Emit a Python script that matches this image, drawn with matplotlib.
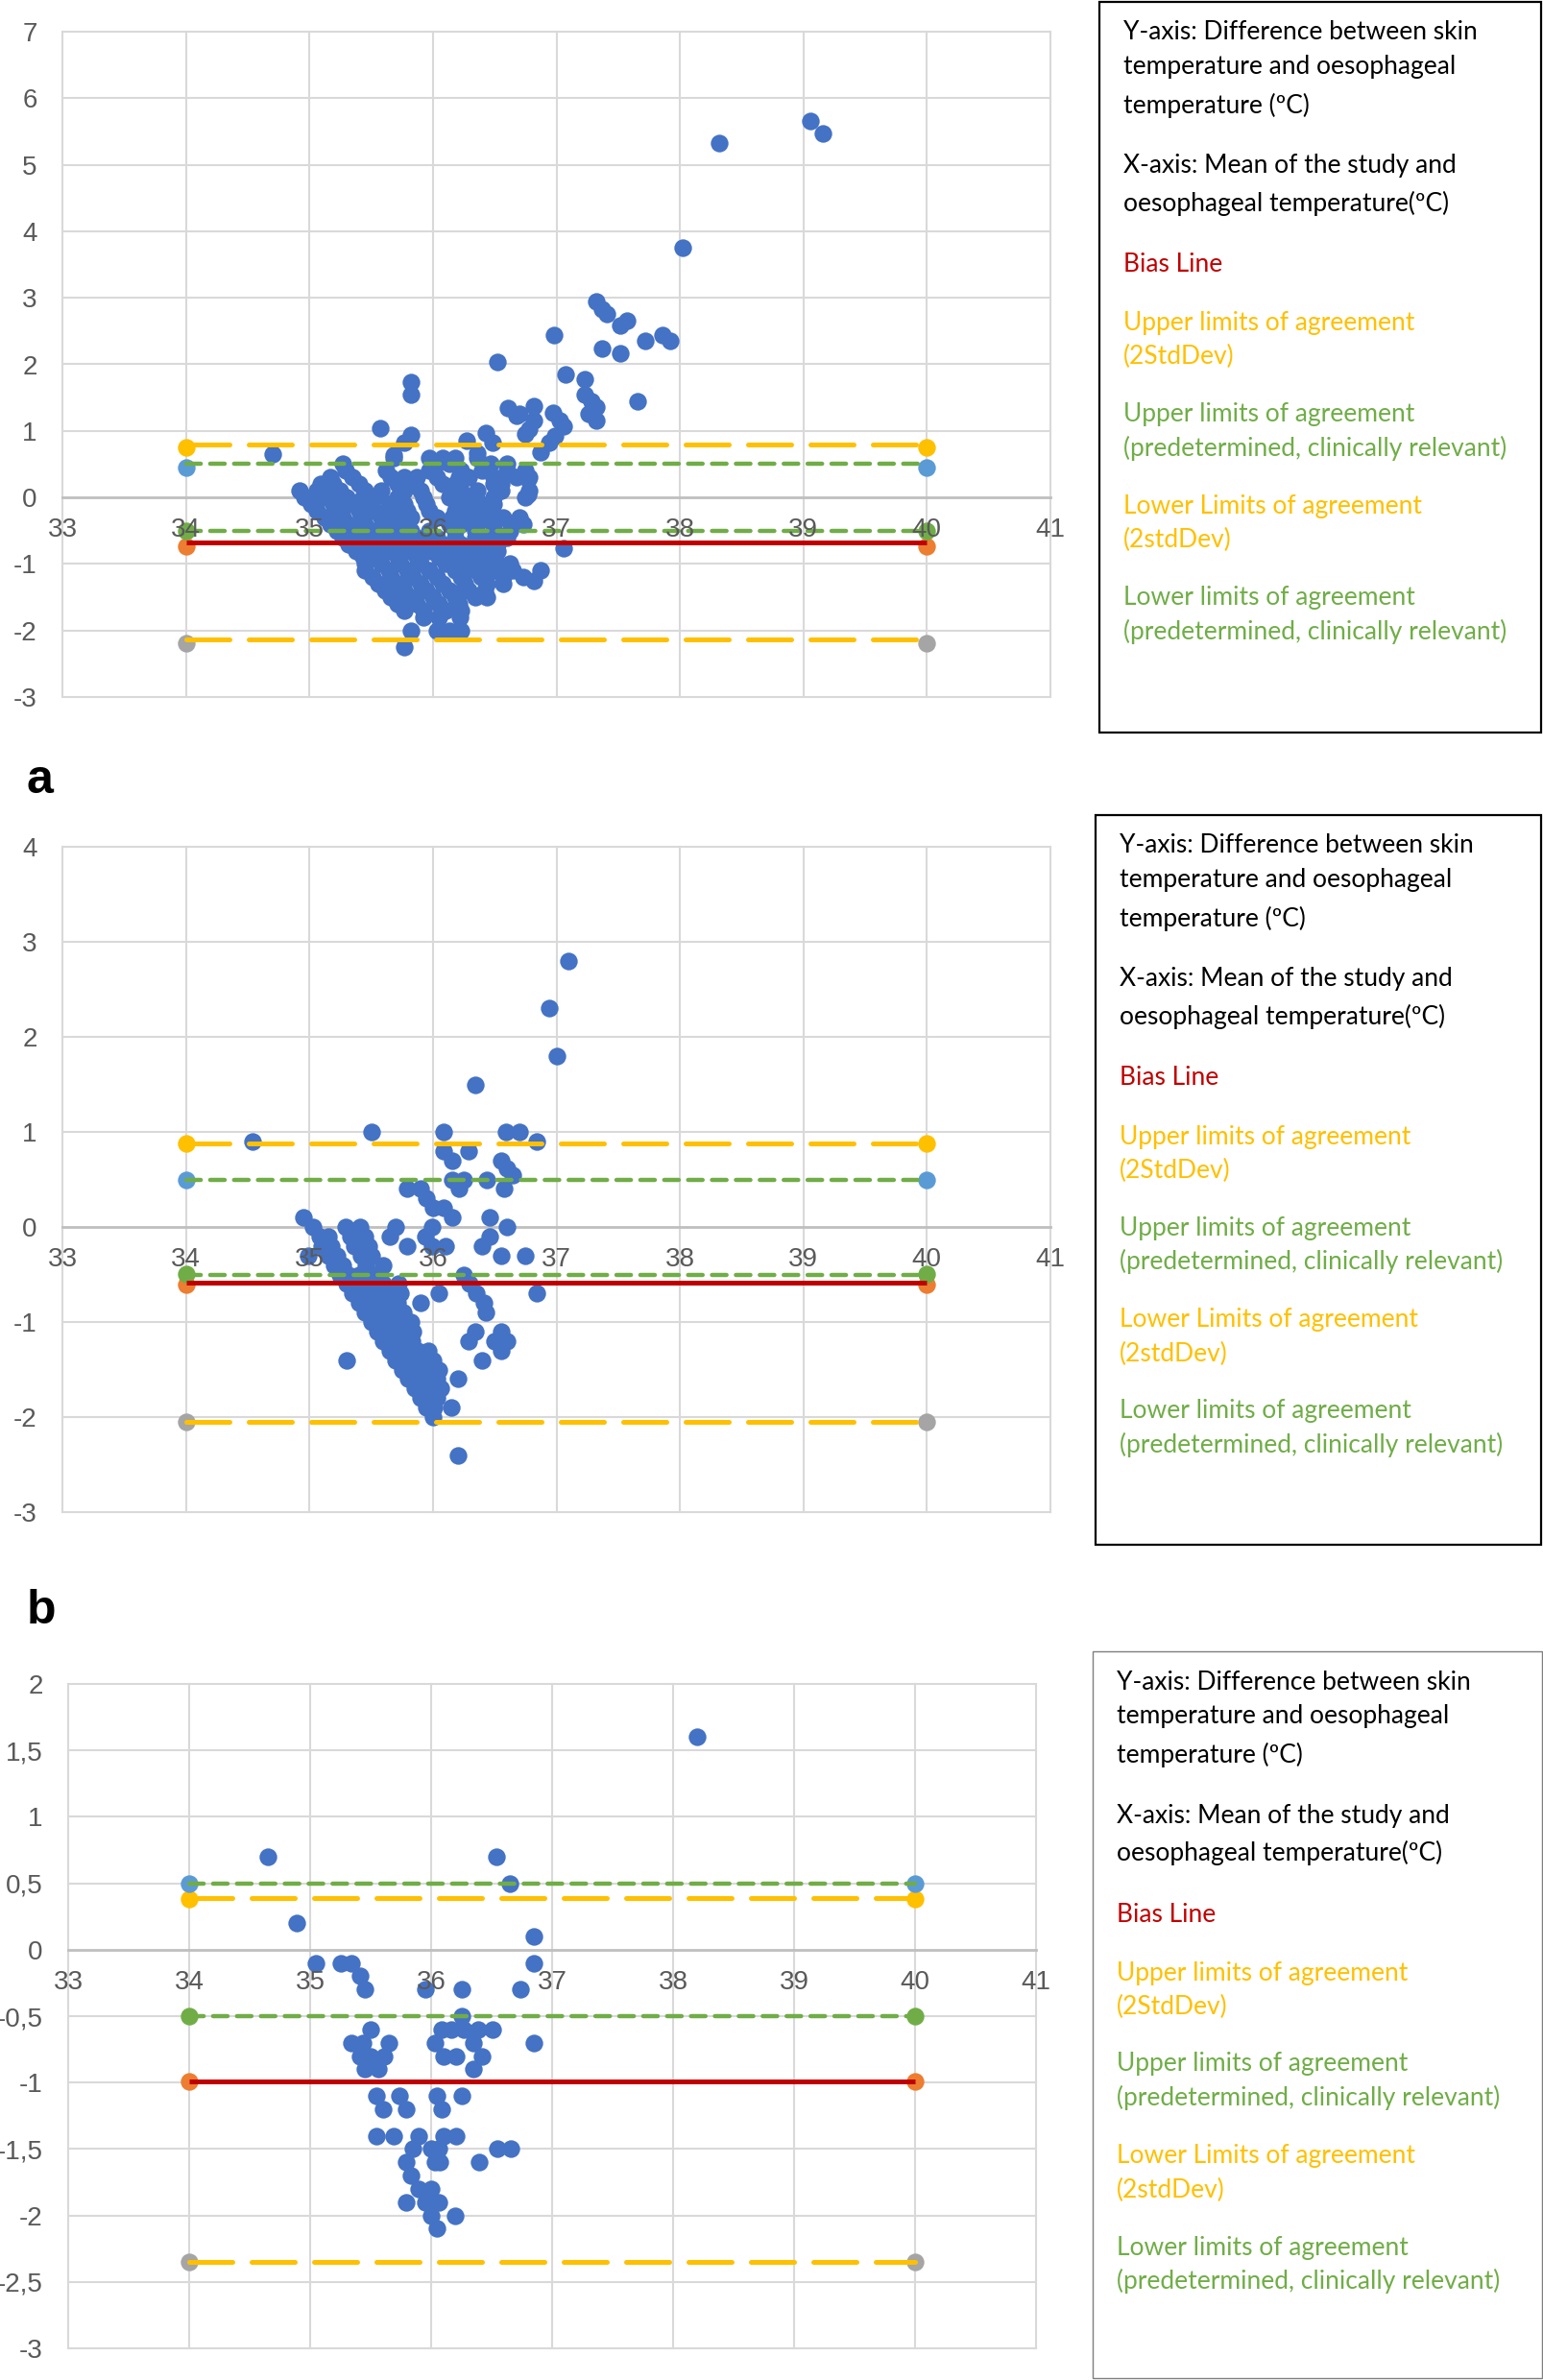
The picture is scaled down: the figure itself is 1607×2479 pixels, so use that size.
import matplotlib.pyplot as plt
from matplotlib.patches import Rectangle

# ---- data ----
x_ticks = [33, 34, 35, 36, 37, 38, 39, 40, 41]
line_x = [34, 40]

# order of limit series: upper 2SD, upper predetermined, bias, lower predetermined, lower 2SD
a_levels = [0.79, 0.50, -0.68, -0.50, -2.14]
a_marks = [0.75, 0.45, -0.74, -0.50, -2.19]
b_levels = [0.88, 0.50, -0.59, -0.51, -2.05]
b_marks = [0.88, 0.50, -0.61, -0.49, -2.05]
c_levels = [0.39, 0.50, -0.99, -0.50, -2.35]
c_marks = [0.38, 0.50, -0.99, -0.50, -2.35]

a_yticks = [-3, -2, -1, 0, 1, 2, 3, 4, 5, 6, 7]
b_yticks = [-3, -2, -1, 0, 1, 2, 3, 4]
c_yticks = [-3, -2.5, -2, -1.5, -1, -0.5, 0, 0.5, 1, 1.5, 2]
c_ylabels = ['-3', '-2,5', '-2', '-1,5', '-1', '-0,5', '0', '0,5', '1', '1,5', '2']

a_points = [
    (34.70, 0.65), (35.57, 1.04), (35.82, 1.73), (35.82, 1.55), (35.82, 0.94),
    (35.77, 0.82), (35.68, 0.63), (36.27, 0.85), (36.43, 0.97), (36.48, 0.82),
    (36.36, 0.66), (36.52, 2.04), (36.61, 1.35), (36.68, 1.23), (36.75, 0.95),
    (36.70, 1.26), (36.82, 1.37), (36.82, 1.16), (36.97, 1.27), (37.03, 1.16),
    (37.06, 1.07), (36.78, 1.02), (36.99, 0.92), (36.94, 0.82), (36.87, 0.68),
    (36.77, 0.27), (36.77, 0.05), (36.98, 2.44), (37.07, 1.85), (37.23, 1.77),
    (37.23, 1.55), (37.28, 1.45), (37.32, 1.36), (37.26, 1.26), (37.32, 1.15),
    (37.66, 1.45), (37.32, 2.95), (37.37, 2.83), (37.41, 2.76), (37.52, 2.58),
    (37.57, 2.66), (37.37, 2.24), (37.52, 2.16), (37.72, 2.36), (37.86, 2.44),
    (37.92, 2.35), (38.02, 3.76), (38.32, 5.33), (39.06, 5.66), (39.16, 5.47),
    (37.06, -0.77),
    (35.68, 0.6), (35.97, 0.6), (36.08, 0.6), (36.18, 0.6), (36.36, 0.6),
    (35.27, 0.5), (36.03, 0.5), (36.13, 0.5), (36.47, 0.5), (36.60, 0.5),
    (35.29, 0.4), (35.62, 0.4), (35.97, 0.4), (36.23, 0.4), (36.40, 0.4), (36.60, 0.4), (36.75, 0.4),
    (35.17, 0.3), (35.35, 0.3), (35.66, 0.3), (35.77, 0.3), (35.87, 0.3), (36.03, 0.3),
    (36.21, 0.3), (36.29, 0.3), (36.49, 0.3), (36.68, 0.3), (36.78, 0.3),
    (35.09, 0.2), (35.19, 0.2), (35.40, 0.2), (35.71, 0.2), (35.82, 0.2), (36.08, 0.2),
    (36.18, 0.2), (36.49, 0.2), (36.55, 0.2),
    (34.92, 0.1), (35.06, 0.1), (35.25, 0.1), (35.45, 0.1), (35.58, 0.1), (35.77, 0.1),
    (35.90, 0.1), (36.23, 0.1), (36.36, 0.1), (36.55, 0.1), (36.78, 0.1),
    (34.96, 0.0), (35.14, 0.0), (35.30, 0.0), (35.43, 0.0), (35.53, 0.0), (35.71, 0.0),
    (35.92, 0.0), (36.13, 0.0), (36.29, 0.0), (36.49, 0.0), (36.75, 0.0),
    (35.01, -0.1), (35.19, -0.1), (35.35, -0.1), (35.48, -0.1), (35.64, -0.1),
    (35.77, -0.1), (35.95, -0.1), (36.23, -0.1), (36.39, -0.1), (36.49, -0.1),
    (35.06, -0.2), (35.25, -0.2), (35.40, -0.2), (35.53, -0.2), (35.66, -0.2),
    (35.79, -0.2), (35.97, -0.2), (36.18, -0.2), (36.34, -0.2), (36.47, -0.2),
    (35.12, -0.3), (35.27, -0.3), (35.43, -0.3), (35.58, -0.3), (35.71, -0.3), (35.82, -0.3),
    (36.03, -0.3), (36.16, -0.3), (36.26, -0.3), (36.39, -0.3), (36.57, -0.3), (36.70, -0.3),
    (35.17, -0.4), (35.32, -0.4), (35.45, -0.4), (35.61, -0.4), (35.77, -0.4), (36.13, -0.4),
    (36.23, -0.4), (36.36, -0.4), (36.49, -0.4), (36.65, -0.4), (36.73, -0.4),
    (35.22, -0.5), (35.35, -0.5), (35.51, -0.5), (35.66, -0.5), (35.82, -0.5),
    (35.97, -0.5), (36.18, -0.5), (36.34, -0.5), (36.49, -0.5), (36.62, -0.5),
    (35.27, -0.6), (35.40, -0.6), (35.56, -0.6), (35.71, -0.6), (35.87, -0.6),
    (36.03, -0.6), (36.18, -0.6), (36.34, -0.6), (36.47, -0.6), (36.60, -0.6),
    (35.32, -0.7), (35.45, -0.7), (35.61, -0.7), (35.77, -0.7), (35.92, -0.7),
    (36.08, -0.7), (36.23, -0.7), (36.39, -0.7), (36.52, -0.7),
    (35.38, -0.8), (35.51, -0.8), (35.66, -0.8), (35.82, -0.8), (35.97, -0.8),
    (36.13, -0.8), (36.29, -0.8), (36.44, -0.8), (36.52, -0.8),
    (35.43, -0.9), (35.56, -0.9), (35.71, -0.9), (35.87, -0.9), (36.05, -0.9),
    (36.21, -0.9), (36.36, -0.9), (36.49, -0.9),
    (35.45, -1.0), (35.58, -1.0), (35.74, -1.0), (35.90, -1.0), (36.10, -1.0),
    (36.26, -1.0), (36.42, -1.0), (36.52, -1.0), (36.62, -1.0),
    (35.45, -1.1), (35.64, -1.1), (35.79, -1.1), (35.97, -1.1), (36.18, -1.1),
    (36.34, -1.1), (36.49, -1.1), (36.65, -1.1), (36.87, -1.1),
    (35.51, -1.2), (35.66, -1.2), (35.84, -1.2), (36.03, -1.2), (36.23, -1.2),
    (36.39, -1.2), (36.57, -1.2), (36.73, -1.2), (36.82, -1.25),
    (35.56, -1.3), (35.71, -1.3), (35.90, -1.3), (36.08, -1.3), (36.26, -1.3),
    (36.44, -1.3), (36.57, -1.3),
    (35.61, -1.4), (35.77, -1.4), (35.95, -1.4), (36.13, -1.4), (36.29, -1.4), (36.42, -1.4),
    (35.66, -1.5), (35.82, -1.5), (36.00, -1.5), (36.18, -1.5), (36.34, -1.5), (36.44, -1.5),
    (35.71, -1.6), (35.87, -1.6), (36.05, -1.6), (36.21, -1.6),
    (35.77, -1.7), (35.92, -1.7), (36.10, -1.7), (36.23, -1.7),
    (35.92, -1.8), (36.05, -1.8), (36.22, -1.8),
    (35.82, -2.0), (36.03, -2.0), (36.13, -2.0), (36.23, -2.0), (35.77, -2.25),
]

b_points = [
    (34.54, 0.9), (35.50, 1.0), (36.09, 1.0), (36.59, 1.0), (36.70, 1.0), (36.84, 0.9),
    (36.34, 1.5), (37.10, 2.8), (36.94, 2.3), (37.00, 1.8),
    (36.09, 0.8), (36.16, 0.7), (36.29, 0.8), (36.55, 0.7), (36.60, 0.62), (36.65, 0.55),
    (36.16, 0.5), (36.25, 0.5), (36.21, 0.4), (36.44, 0.5), (36.58, 0.4),
    (35.79, 0.4), (35.90, 0.4), (35.95, 0.3), (36.00, 0.2), (36.09, 0.2), (36.16, 0.1),
    (36.46, 0.1), (36.60, 0.0), (36.46, -0.1), (36.40, -0.2), (36.55, -0.3), (36.75, -0.3),
    (36.84, -0.7), (36.05, -0.7), (35.90, -0.8),
    (36.25, -0.5), (36.30, -0.6), (36.35, -0.7), (36.41, -0.8), (36.43, -0.9),
    (36.34, -1.1), (36.29, -1.2), (36.40, -1.4), (36.55, -1.1), (36.60, -1.2),
    (36.55, -1.3), (36.50, -1.2),
    (35.30, -1.4), (36.20, -1.6), (36.15, -1.9), (36.20, -2.4),
    (34.95, 0.1),
    (35.03, 0.0), (35.29, 0.0), (35.41, 0.0), (35.70, 0.0), (35.99, 0.0),
    (35.08, -0.1), (35.15, -0.1), (35.33, -0.1), (35.45, -0.1), (35.65, -0.1), (35.94, -0.1),
    (35.10, -0.2), (35.18, -0.2), (35.36, -0.2), (35.48, -0.2), (35.79, -0.2), (35.99, -0.2), (36.10, -0.2),
    (34.99, -0.3), (35.15, -0.3), (35.22, -0.3), (35.42, -0.3), (35.50, -0.3),
    (35.20, -0.4), (35.27, -0.4), (35.46, -0.4), (35.60, -0.4),
    (35.25, -0.5), (35.32, -0.5), (35.40, -0.5), (35.52, -0.5),
    (35.30, -0.6), (35.36, -0.6), (35.44, -0.6), (35.52, -0.6), (35.60, -0.6), (35.72, -0.6),
    (35.35, -0.7), (35.42, -0.7), (35.50, -0.7), (35.58, -0.7), (35.66, -0.7), (35.74, -0.7),
    (35.40, -0.8), (35.47, -0.8), (35.55, -0.8), (35.63, -0.8), (35.71, -0.8),
    (35.45, -0.9), (35.52, -0.9), (35.60, -0.9), (35.68, -0.9), (35.76, -0.9),
    (35.50, -1.0), (35.57, -1.0), (35.65, -1.0), (35.73, -1.0), (35.82, -1.0),
    (35.55, -1.1), (35.62, -1.1), (35.70, -1.1), (35.78, -1.1), (35.84, -1.1),
    (35.60, -1.2), (35.67, -1.2), (35.75, -1.2), (35.83, -1.2),
    (35.65, -1.3), (35.72, -1.3), (35.80, -1.3), (35.88, -1.3), (35.96, -1.3),
    (35.70, -1.4), (35.77, -1.4), (35.85, -1.4), (35.92, -1.4), (36.00, -1.4),
    (35.75, -1.5), (35.82, -1.5), (35.90, -1.5), (35.97, -1.5), (36.05, -1.5),
    (35.80, -1.6), (35.87, -1.6), (35.95, -1.6), (36.03, -1.6),
    (35.85, -1.7), (35.92, -1.7), (36.00, -1.7), (36.06, -1.7),
    (35.90, -1.8), (35.97, -1.8), (36.03, -1.8),
    (35.95, -1.9), (36.01, -1.9), (36.00, -2.0),
]

c_points = [
    (34.65, 0.7), (34.89, 0.2), (35.05, -0.1), (35.25, -0.1), (35.34, -0.1),
    (35.41, -0.2), (35.45, -0.3), (35.95, -0.3), (36.25, -0.3), (36.25, -0.5),
    (36.54, 0.7), (36.65, 0.5), (36.85, 0.1), (36.85, -0.1), (36.74, -0.3), (36.85, -0.7),
    (35.50, -0.6), (35.34, -0.7), (35.44, -0.7), (35.65, -0.7), (35.41, -0.8), (35.50, -0.8),
    (35.61, -0.8), (35.45, -0.9), (35.56, -0.9),
    (36.09, -0.6), (36.17, -0.6), (36.27, -0.6), (36.39, -0.6), (36.51, -0.6),
    (36.03, -0.7), (36.35, -0.7), (36.10, -0.8), (36.21, -0.8), (36.42, -0.8), (36.35, -0.9),
    (35.55, -1.1), (35.74, -1.1), (36.05, -1.1), (36.25, -1.1),
    (35.60, -1.2), (35.79, -1.2), (36.09, -1.2),
    (35.55, -1.4), (35.69, -1.4), (35.90, -1.4), (36.10, -1.4), (36.21, -1.4),
    (35.85, -1.5), (36.00, -1.5), (36.06, -1.5), (36.55, -1.5), (36.66, -1.5),
    (35.79, -1.6), (36.03, -1.6), (36.07, -1.6), (36.40, -1.6),
    (35.83, -1.7), (35.90, -1.8), (36.00, -1.8),
    (35.79, -1.9), (35.95, -1.9), (36.06, -1.9),
    (36.00, -2.0), (36.20, -2.0), (36.05, -2.1),
    (38.20, 1.6),
]

key_text = [
    ('Y-axis: Difference between skin', 'black'),
    ('temperature and oesophageal', 'black'),
    ('temperature (ºC)', 'black'),
    ('X-axis: Mean of the study and', 'black'),
    ('oesophageal temperature(ºC)', 'black'),
    ('Bias Line', '#C00000'),
    ('Upper limits of agreement', '#FFC000'),
    ('(2StdDev)', '#FFC000'),
    ('Upper limits of agreement', '#70AD47'),
    ('(predetermined, clinically relevant)', '#70AD47'),
    ('Lower Limits of agreement', '#FFC000'),
    ('(2stdDev)', '#FFC000'),
    ('Lower limits of agreement', '#70AD47'),
    ('(predetermined, clinically relevant)', '#70AD47'),
]
key_offsets = [32, 68, 108, 171, 210, 274, 335, 370, 430, 465, 526, 561, 621, 656]

# ---- styling ----
W, H = 1608, 2479
fig = plt.figure(figsize=(W / 100, H / 100), dpi=100)
fig.patch.set_facecolor('white')

tick_font = ['Liberation Sans Narrow', 'Liberation Sans', 'DejaVu Sans']
key_font = ['Lato', 'DejaVu Sans']
grid_c = '#D9D9D9'
dot_c = '#4472C4'
dot_s = 175
mark_colors = ['#FFC000', '#5B9BD5', '#ED7D31', '#70AD47', '#A5A5A5']
line_colors = ['#FFC000', '#70AD47', '#C00000', '#70AD47', '#FFC000']
line_dash = [(9.0, 4.0), (3.4, 2.2), None, (3.4, 2.2), (9.0, 4.0)]
line_w = [3.6, 3.2, 3.6, 3.2, 3.6]


def px_axes(left, top, right, bottom):
    return fig.add_axes([left / W, 1 - bottom / H, (right - left) / W, (bottom - top) / H])


def draw_panel(box, points, yticks, ylabels, levels, marks):
    ax = px_axes(*box)
    ax.set_xlim(33, 41)
    ax.set_ylim(yticks[0], yticks[-1])
    for v in x_ticks:
        ax.axvline(v, color=grid_c, lw=1.5, zorder=0, clip_on=False)
    for v in yticks:
        if v != 0:
            ax.axhline(v, color=grid_c, lw=1.5, zorder=0, clip_on=False)
    for s in ['top', 'right', 'left']:
        ax.spines[s].set_visible(False)
    ax.spines['bottom'].set_position(('data', 0))
    ax.spines['bottom'].set_color('#BFBFBF')
    ax.spines['bottom'].set_linewidth(2)
    ax.spines['bottom'].set_zorder(0.5)
    ax.set_xticks(x_ticks)
    ax.set_xticklabels([str(v) for v in x_ticks])
    ax.set_yticks(yticks)
    ax.set_yticklabels(ylabels)
    ax.tick_params(axis='x', length=0, pad=15, labelsize=20, labelcolor='#595959')
    ax.tick_params(axis='y', length=0, pad=19, labelsize=20, labelcolor='#595959')
    for lab in ax.get_xticklabels() + ax.get_yticklabels():
        lab.set_family(tick_font)
    ax.set_axisbelow(False)
    ax.xaxis.set_zorder(6)
    ax.yaxis.set_zorder(6)

    xs = [p[0] for p in points]
    ys = [p[1] for p in points]
    ax.scatter(xs, ys, s=dot_s, color=dot_c, linewidths=0, zorder=1)

    for lvl, mk, mc, lc, ds, lw in zip(levels, marks, mark_colors, line_colors, line_dash, line_w):
        ax.scatter(line_x, [mk, mk], s=dot_s, color=mc, linewidths=0, zorder=2, clip_on=False)
        if ds is None:
            ax.plot(line_x, [lvl, lvl], color=lc, lw=lw, zorder=3, solid_capstyle='butt')
        else:
            ax.plot(line_x, [lvl, lvl], color=lc, lw=lw, zorder=3, dashes=ds,
                    dash_capstyle='round')
    return ax


def draw_key(left, top, right, bottom, edge, elw):
    fig.add_artist(Rectangle((left / W, 1 - bottom / H), (right - left) / W, (bottom - top) / H,
                             transform=fig.transFigure, fill=False, edgecolor=edge, lw=elw))
    for (txt, col), dy in zip(key_text, key_offsets):
        fig.text((left + 25) / W, 1 - (top + dy) / H, txt, color=col, va='center', ha='left',
                 fontsize=19, family=key_font)


draw_panel((65, 33, 1094, 726), a_points, a_yticks, [str(v) for v in a_yticks], a_levels, a_marks)
draw_panel((65, 882, 1094, 1575), b_points, b_yticks, [str(v) for v in b_yticks], b_levels, b_marks)
draw_panel((71, 1754, 1079, 2446), c_points, c_yticks, c_ylabels, c_levels, c_marks)

draw_key(1145, 1.5, 1605, 763, 'black', 1.6)
draw_key(1141, 849, 1605, 1609, 'black', 1.6)
draw_key(1138, 1720, 1606, 2477, '#7F7F7F', 1.0)

fig.text(28 / W, 1 - 813 / H, 'a', fontsize=36, fontweight='bold', va='center', ha='left',
         family=['Liberation Sans', 'DejaVu Sans'])
fig.text(28 / W, 1 - 1678 / H, 'b', fontsize=36, fontweight='bold', va='center', ha='left',
         family=['Liberation Sans', 'DejaVu Sans'])

fig.savefig('out.png', dpi=100, facecolor='white')
